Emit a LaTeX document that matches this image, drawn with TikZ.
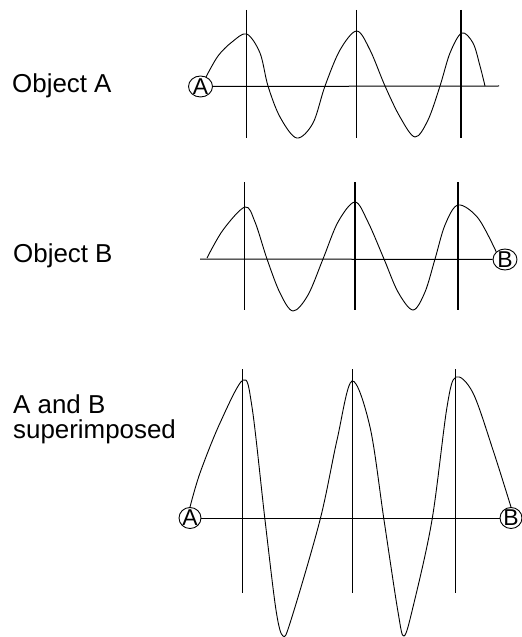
\documentclass[tikz,border=0pt]{standalone}
\usepackage{fontspec}
\setmainfont{Liberation Sans}
\usetikzlibrary{shapes.geometric,positioning}

\begin{document}
\begin{tikzpicture}[
      x=1bp, y=-1bp,
      rowlabel/.style={anchor=base west, inner sep=0pt, align=left,
        font=\fontsize{26}{24.5}\selectfont},
      endmark/.style={ellipse, draw, line width=0.9bp, inner sep=-4bp,
        minimum width=24bp, minimum height=21bp, font=\fontsize{23}{23}\selectfont},
      axisline/.style={line width=1bp},
      markline/.style={line width=1.1bp},
      wave/.style={line width=0.9bp, smooth, tension=0.55}
    ]
      \useasboundingbox (0,0) rectangle (522,637);

      % labels
      \node[rowlabel] (labA) at (12,93) {Object A};
      \node[rowlabel] (labB) at (13,262) {Object B};
      \node[rowlabel] (labAB) at (13,438) {A and B\\superimposed};

      % object A
      \node[endmark] (a1) at (200.5,86.5) {A};
      \coordinate (a1end) at (499,86);
      \draw[axisline] (a1) -- (a1end);
      \foreach \xx in {246.7,356.7,461} \draw[markline] (\xx,10) -- (\xx,138);
      \draw[wave] plot coordinates {(a1.60) (218,56) (232,42) (246.7,34)
        (260,53) (268,86) (280,117) (296.7,138) (313,123) (325,86) (340,50)
        (356.7,31) (370,50) (385,86) (400,117) (415,137) (428,120) (440,86)
        (450,53) (461.7,33) (473,43) (480,66) (485,86)};

      % object B
      \node[endmark] (b2) at (505,259.5) {B};
      \coordinate (b2start) at (200,259);
      \draw[axisline] (b2start) -- (b2);
      \foreach \xx in {244.5,355,458} \draw[markline] (\xx,182) -- (\xx,310);
      \draw[wave] plot coordinates {(207,258) (223,230) (245,207) (255,222)
        (267,259) (280,293) (293,311) (308,295) (323,259) (338,222) (355,202)
        (368,222) (384,259) (398,292) (413,310) (425,292) (435,259) (445,225)
        (458,205) (478,218) (b2.north west)};

      % superimposed
      \node[endmark, minimum width=22bp, minimum height=21bp] (a3) at (190,518) {A};
      \node[endmark, minimum width=22bp, minimum height=21bp] (b3) at (511,518) {B};
      \draw[axisline] (a3) -- (b3);
      \foreach \xx in {242.7,352.3,455.3} \draw[markline] (\xx,369) -- (\xx,593);
      \draw[wave] plot coordinates {(a3.north) (200,473) (220,423) (243,380)
        (252,407) (265,520) (276,610) (283,636) (291,620) (320,520) (337,440)
        (352,381) (370,427) (384,520) (398,612) (404,636) (413,607) (432,520)
        (447,407) (456,377) (473,393) (493,450) (b3.north)};
\end{tikzpicture}
\end{document}
